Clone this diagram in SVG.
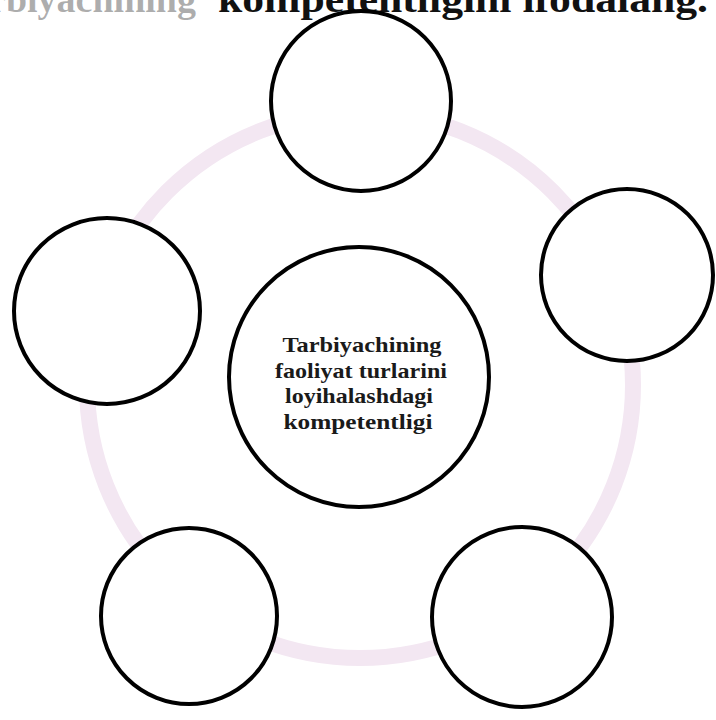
<svg xmlns="http://www.w3.org/2000/svg" width="716" height="720" viewBox="0 0 716 720">
<style>
.node{fill:#ffffff;stroke:#000000;stroke-width:4}
.title{font-family:"Liberation Serif",serif;font-weight:bold;font-size:38px;fill:#111}
.lbl{font-family:"Liberation Serif",serif;font-weight:bold;font-size:22px;fill:#1a1a1a;text-anchor:middle}
</style>
<rect width="716" height="720" fill="#ffffff"/>
<text class="title" x="196" y="12" text-anchor="end" fill-opacity="0.35">Tarbiyachining</text>
<text class="title" x="218" y="12" textLength="490" lengthAdjust="spacingAndGlyphs">kompetentligini ifodalang.</text>
<g id="connectors">
<circle cx="360" cy="385" r="273" fill="none" stroke="#f3e7f2" stroke-width="16"/>
</g>
<g id="node-top"><circle class="node" cx="361" cy="101" r="90"/></g>
<g id="node-right"><circle class="node" cx="627" cy="275" r="86"/></g>
<g id="node-left"><circle class="node" cx="107" cy="311" r="93"/></g>
<g id="node-bottom-left"><circle class="node" cx="189" cy="616" r="88"/></g>
<g id="node-bottom-right"><circle class="node" cx="522" cy="617" r="90"/></g>
<g id="node-center">
<circle class="node" cx="359" cy="377" r="130"/>
<text class="lbl" x="362" y="352" textLength="159" lengthAdjust="spacingAndGlyphs">Tarbiyachining</text>
<text class="lbl" x="361" y="378" textLength="172" lengthAdjust="spacingAndGlyphs">faoliyat turlarini</text>
<text class="lbl" x="359" y="403" textLength="148" lengthAdjust="spacingAndGlyphs">loyihalashdagi</text>
<text class="lbl" x="358" y="429" textLength="149" lengthAdjust="spacingAndGlyphs">kompetentligi</text>
</g>
</svg>
